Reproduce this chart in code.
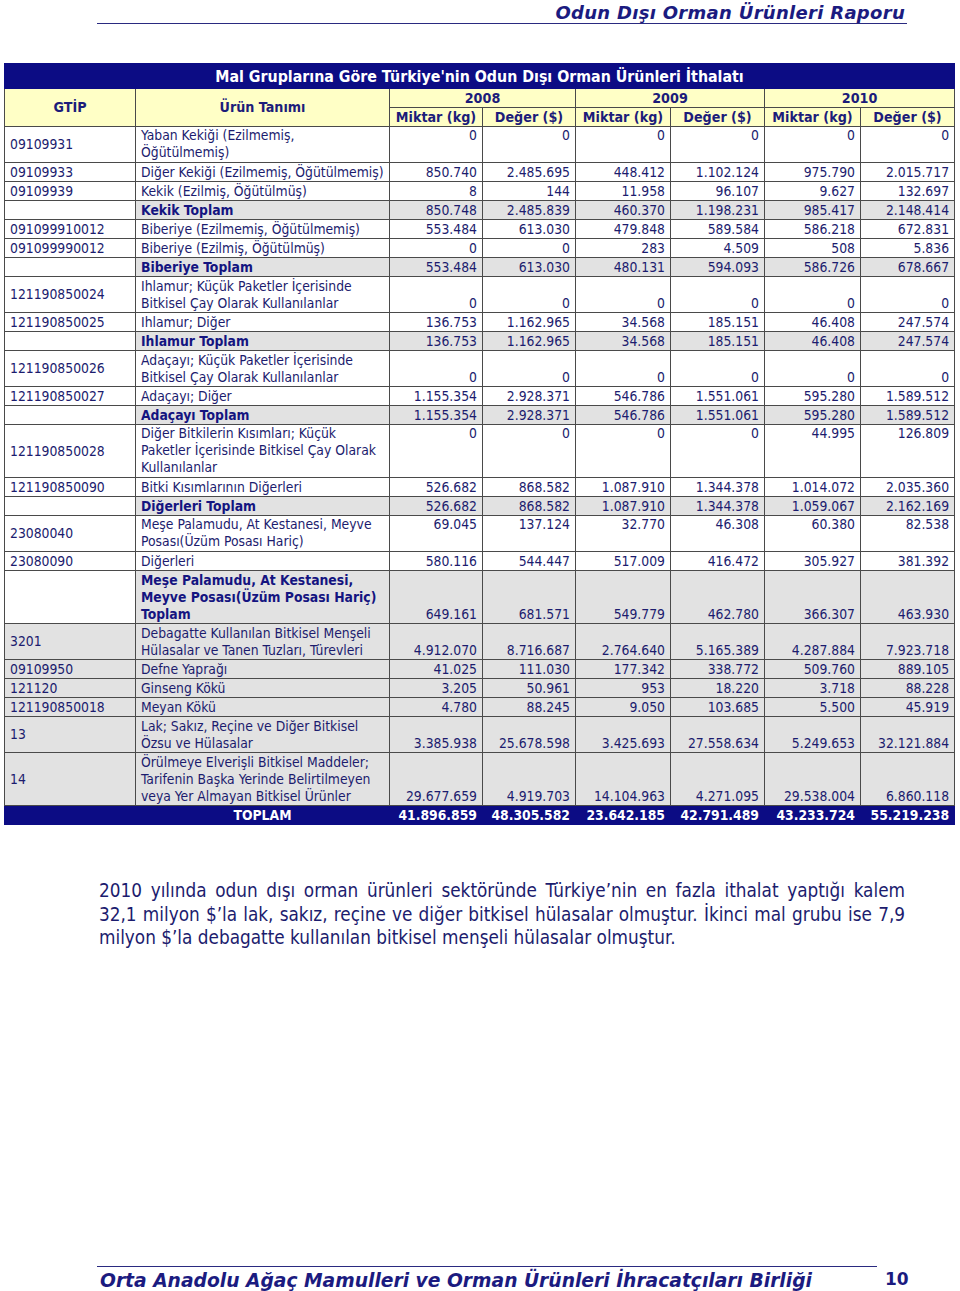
<!DOCTYPE html>
<html lang="tr">
<head>
<meta charset="utf-8">
<title>Odun Dışı Orman Ürünleri İthalatı</title>
<script src="https://cdn.jsdelivr.net/npm/chart.js@4.4.1/dist/chart.umd.min.js"></script>
<style>
  html, body { margin: 0; padding: 0; background: #fff; }
  body { width: 960px; height: 1291px; position: relative; font-family: "DejaVu Sans Condensed", "DejaVu Sans", sans-serif; color: #1c1c6e; }
  .page-head { position: absolute; left: 97px; top: 0; width: 810px; height: 23px; border-bottom: 1px solid #2a2a80; }
  .page-head span { position: absolute; right: 2px; top: 2px; font: bold oblique 18px "DejaVu Sans", sans-serif; color: #1b1b80; letter-spacing: 0.3px; }
  #tbl { position: absolute; left: 4px; top: 63px; border-collapse: collapse; table-layout: fixed; width: 950px; font-size: 13.8px; }
  #tbl td { border: 1px solid #4a4a4a; padding: 0 5px; line-height: 17px; overflow: hidden; white-space: pre; }
  #tbl td.num { text-align: right; padding-right: 5px; }
  #tbl tr.title td { background: #0c0c84; color: #fff; font-weight: bold; font-size: 15.8px; text-align: center; height: 24px; border-color: #0c0c84; }
  #tbl tr.head td { background: #ffffc6; color: #1c1c7a; font-weight: bold; font-size: 14.2px; text-align: center; height: 18px; }
  #tbl tr.total td.lbl { font-weight: bold; color: #141480; }
  #tbl tr.total td.shade, #tbl tr.grey td { background: #e2e2e2; }
  #tbl tr.grand td { background: #0c0c84; color: #fff; font-weight: bold; border-color: #0c0c84; }
  #tbl tr.grand td.lbl { text-align: center; }
  .para { position: absolute; left: 99px; top: 879px; width: 806px; font-size: 18.8px; line-height: 23.5px; color: #1c1c6e; }
  .para span { display: block; white-space: nowrap; text-align: justify; text-align-last: justify; }
  .para span.last { text-align-last: left; }
  .page-foot { position: absolute; left: 97px; top: 1266px; width: 780px; border-top: 1px solid #2a2a80; }
  .page-foot .org { position: absolute; left: 3px; top: 3px; white-space: nowrap; font: bold oblique 18.7px "DejaVu Sans", sans-serif; color: #1b1b80; }
  .page-foot .pg { position: absolute; left: 788px; top: 2px; font: bold 17px "DejaVu Sans", sans-serif; color: #1b1b80; }
</style>
</head>
<body>
<div class="page-head"><span>Odun Dışı Orman Ürünleri Raporu</span></div>

<table id="tbl">
  <colgroup>
    <col style="width:131px"><col style="width:254px">
    <col style="width:93px"><col style="width:93px">
    <col style="width:95px"><col style="width:94px">
    <col style="width:96px"><col style="width:94px">
  </colgroup>
  <tbody id="body"></tbody>
</table>

<div class="para"><span>2010 yılında odun dışı orman ürünleri sektöründe Türkiye’nin en fazla ithalat yaptığı kalem</span><span>32,1 milyon $’la lak, sakız, reçine ve diğer bitkisel hülasalar olmuştur. İkinci mal grubu ise 7,9</span><span class="last">milyon $’la debagatte kullanılan bitkisel menşeli hülasalar olmuştur.</span></div>

<div class="page-foot">
  <span class="org">Orta Anadolu Ağaç Mamulleri ve Orman Ürünleri İhracatçıları Birliği</span>
  <span class="pg">10</span>
</div>

<script>
const title = "Mal Gruplarına Göre Türkiye'nin Odun Dışı Orman Ürünleri İthalatı";
const years = ['2008', '2009', '2010'];
const subHeads = ['Miktar (kg)', 'Değer ($)'];

const gtip = ['09109931', '09109933', '09109939', '', '091099910012', '091099990012', '',
  '121190850024', '121190850025', '', '121190850026', '121190850027', '', '121190850028',
  '121190850090', '', '23080040', '23080090', '', '3201', '09109950', '121120',
  '121190850018', '13', '14', ''];

const products = [
  'Yaban Kekiği (Ezilmemiş,\nÖğütülmemiş)',
  'Diğer Kekiği (Ezilmemiş, Öğütülmemiş)',
  'Kekik (Ezilmiş, Öğütülmüş)',
  'Kekik Toplam',
  'Biberiye (Ezilmemiş, Öğütülmemiş)',
  'Biberiye (Ezilmiş, Öğütülmüş)',
  'Biberiye Toplam',
  'Ihlamur; Küçük Paketler İçerisinde\nBitkisel Çay Olarak Kullanılanlar',
  'Ihlamur; Diğer',
  'Ihlamur Toplam',
  'Adaçayı; Küçük Paketler İçerisinde\nBitkisel Çay Olarak Kullanılanlar',
  'Adaçayı; Diğer',
  'Adaçayı Toplam',
  'Diğer Bitkilerin Kısımları; Küçük\nPaketler İçerisinde Bitkisel Çay Olarak\nKullanılanlar',
  'Bitki Kısımlarının Diğerleri',
  'Diğerleri Toplam',
  'Meşe Palamudu, At Kestanesi, Meyve\nPosası(Üzüm Posası Hariç)',
  'Diğerleri',
  'Meşe Palamudu, At Kestanesi,\nMeyve Posası(Üzüm Posası Hariç)\nToplam',
  'Debagatte Kullanılan Bitkisel Menşeli\nHülasalar ve Tanen Tuzları, Türevleri',
  'Defne Yaprağı',
  'Ginseng Kökü',
  'Meyan Kökü',
  'Lak; Sakız, Reçine ve Diğer Bitkisel\nÖzsu ve Hülasalar',
  'Örülmeye Elverişli Bitkisel Maddeler;\nTarifenin Başka Yerinde Belirtilmeyen\nveya Yer Almayan Bitkisel Ürünler',
  'TOPLAM'
];

// row type: n = normal, t = group total, g = grey row, s = grand total
const rowType = ['n','n','n','t','n','n','t','n','n','t','n','n','t','n','n','t','n','n','t',
  'g','g','g','g','g','g','s'];
// vertical alignment of the numbers in multi-line rows
const numAlign = ['top','middle','middle','middle','middle','middle','middle','bottom','middle','middle',
  'bottom','middle','middle','top','middle','middle','top','middle','bottom','bottom','middle','middle',
  'middle','bottom','bottom','middle'];

const miktar2008 = [0, 850740, 8, 850748, 553484, 0, 553484, 0, 136753, 136753, 0, 1155354, 1155354, 0,
  526682, 526682, 69045, 580116, 649161, 4912070, 41025, 3205, 4780, 3385938, 29677659, 41896859];
const deger2008 = [0, 2485695, 144, 2485839, 613030, 0, 613030, 0, 1162965, 1162965, 0, 2928371, 2928371, 0,
  868582, 868582, 137124, 544447, 681571, 8716687, 111030, 50961, 88245, 25678598, 4919703, 48305582];
const miktar2009 = [0, 448412, 11958, 460370, 479848, 283, 480131, 0, 34568, 34568, 0, 546786, 546786, 0,
  1087910, 1087910, 32770, 517009, 549779, 2764640, 177342, 953, 9050, 3425693, 14104963, 23642185];
const deger2009 = [0, 1102124, 96107, 1198231, 589584, 4509, 594093, 0, 185151, 185151, 0, 1551061, 1551061, 0,
  1344378, 1344378, 46308, 416472, 462780, 5165389, 338772, 18220, 103685, 27558634, 4271095, 42791489];
const miktar2010 = [0, 975790, 9627, 985417, 586218, 508, 586726, 0, 46408, 46408, 0, 595280, 595280, 44995,
  1014072, 1059067, 60380, 305927, 366307, 4287884, 509760, 3718, 5500, 5249653, 29538004, 43233724];
const deger2010 = [0, 2015717, 132697, 2148414, 672831, 5836, 678667, 0, 247574, 247574, 0, 1589512, 1589512, 126809,
  2035360, 2162169, 82538, 381392, 463930, 7923718, 889105, 88228, 45919, 32121884, 6860118, 55219238];

const series = [miktar2008, deger2008, miktar2009, deger2009, miktar2010, deger2010];

function fmt(v) {
  return String(v).replace(/\B(?=(\d{3})+(?!\d))/g, '.');
}

function cell(tr, text, cls, extra) {
  const td = document.createElement('td');
  td.textContent = text;
  if (cls) td.className = cls;
  if (extra) Object.assign(td, extra);
  tr.appendChild(td);
  return td;
}

const body = document.getElementById('body');

let tr = document.createElement('tr');
tr.className = 'title';
cell(tr, title, '', { colSpan: 8 });
body.appendChild(tr);

tr = document.createElement('tr');
tr.className = 'head';
cell(tr, 'GTİP', '', { rowSpan: 2 });
cell(tr, 'Ürün Tanımı', '', { rowSpan: 2 });
years.forEach(y => cell(tr, y, '', { colSpan: 2 }));
body.appendChild(tr);

tr = document.createElement('tr');
tr.className = 'head';
years.forEach(() => subHeads.forEach(s => cell(tr, s)));
body.appendChild(tr);

products.forEach((p, i) => {
  const lines = p.split('\n').length;
  const row = document.createElement('tr');
  const type = rowType[i];
  row.className = { n: 'normal', t: 'total', g: 'grey', s: 'grand' }[type];
  row.style.height = (lines === 1 ? 19 : lines * 17 + 2) + 'px';
  const g = cell(row, gtip[i]);
  g.style.verticalAlign = 'middle';
  const l = cell(row, p, type === 't' ? 'lbl shade' : 'lbl');
  l.style.verticalAlign = numAlign[i] === 'top' ? 'top' : 'middle';
  if (type === 't') l.style.verticalAlign = 'bottom';
  series.forEach(s => {
    const td = cell(row, fmt(s[i]), type === 't' ? 'num shade' : 'num');
    td.style.verticalAlign = numAlign[i];
  });
  body.appendChild(row);
});
</script>
</body>
</html>
